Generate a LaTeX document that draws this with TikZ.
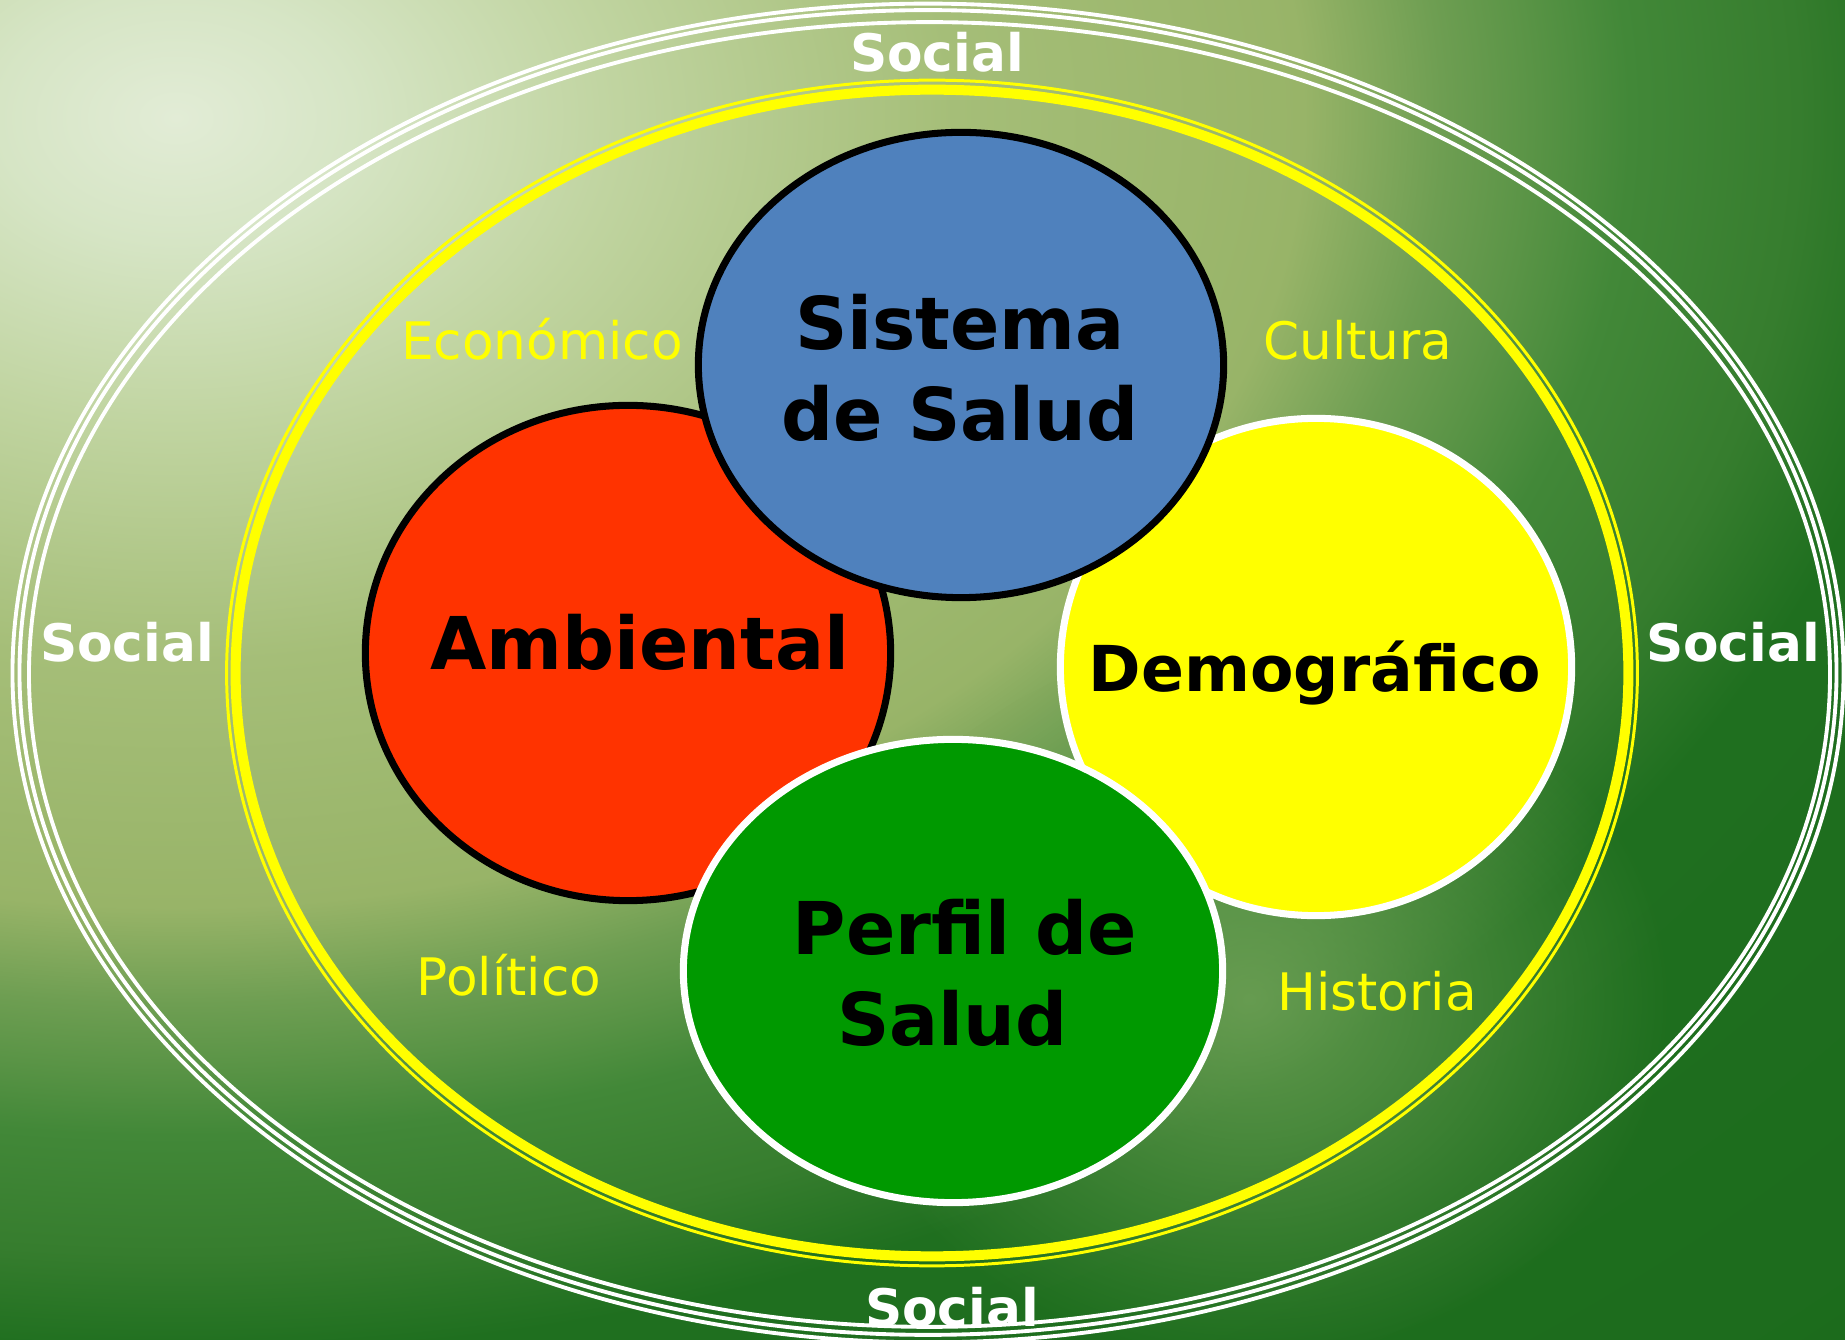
\documentclass[tikz,border=0pt]{standalone}
\usepackage{fontspec}
\setmainfont{DejaVu Sans}
\usetikzlibrary{shapes.geometric,fadings}
\definecolor{bgA}{HTML}{E2ECD6}
\definecolor{bgB}{HTML}{D6E5C5}
\definecolor{bgC}{HTML}{C0D4A0}
\definecolor{bgD}{HTML}{A5BE78}
\definecolor{bgE}{HTML}{98B468}
\definecolor{bgF}{HTML}{6E9E52}
\definecolor{bgG}{HTML}{5A9446}
\definecolor{bgH}{HTML}{428838}
\definecolor{bgI}{HTML}{367D2E}
\definecolor{bgJ}{HTML}{1F6F1F}
\definecolor{bgK}{HTML}{1C6B1C}
\definecolor{glowcol}{HTML}{74A45A}
\definecolor{redfill}{HTML}{FF3300}
\definecolor{bluefill}{HTML}{4F81BD}
\definecolor{yelfill}{HTML}{FFFF00}
\definecolor{grnfill}{HTML}{009900}
\pgfdeclareradialshading{bgshade}{\pgfpoint{0bp}{0bp}}{%
color(0bp)=(bgA); color(1.79bp)=(bgB); color(4.46bp)=(bgC); color(7.86bp)=(bgD);
color(11.4bp)=(bgE); color(12.8bp)=(bgF); color(13.7bp)=(bgG); color(14.7bp)=(bgH);
color(16.4bp)=(bgI); color(17.86bp)=(bgJ); color(25bp)=(bgK); color(50bp)=(bgK)}
\tikzfading[name=glowfade, inner color=transparent!0, outer color=transparent!100]
\begin{document}
\begin{tikzpicture}[x=0.01cm,y=-0.01cm,
  ring/.style={draw=white, line width=1.1pt},
  yring/.style={draw=yelfill},
  blob/.style={ellipse, inner sep=0pt, outer sep=0pt, line width=2pt},
  bigtxt/.style={font=\bfseries\fontsize{20.7}{25.8}\selectfont, text=black, inner sep=0pt},
  demtxt/.style={font=\bfseries\fontsize{18}{22}\selectfont, text=black, inner sep=0pt},
  socialtxt/.style={font=\bfseries\fontsize{14.7}{17}\selectfont, text=white, inner sep=0pt, anchor=base},
  factortxt/.style={font=\fontsize{14.7}{17}\selectfont, text=yelfill, inner sep=0pt, anchor=base}]
\useasboundingbox (0,0) rectangle (1845,1340);
\begin{scope}
\clip (0,0) rectangle (1845,1340);
\fill[bgK] (0,0) rectangle (1845,1340);
\shade[shading=bgshade] (176,118) ellipse [x radius=24.71cm, y radius=17.29cm];
\fill[glowcol, path fading=glowfade, fill opacity=0.8] (1250,1000) ellipse [x radius=4.2cm, y radius=3.6cm];
\end{scope}
% outer triple white ring
\draw[ring] (928,673) ellipse [x radius=9.15cm, y radius=6.69cm];
\draw[ring] (928,672.5) ellipse [x radius=9.08cm, y radius=6.62cm];
\draw[ring] (929.5,674.5) ellipse [x radius=9.00cm, y radius=6.52cm];
% yellow double ring
\draw[yring, line width=0.85pt] (932,673) ellipse [x radius=7.05cm, y radius=5.925cm];
\draw[yring, line width=2.85pt] (932,673) ellipse [x radius=6.96cm, y radius=5.83cm];
% circles
\node[blob, fill=redfill, draw=black, minimum width=5.25cm, minimum height=4.95cm] (amb) at (628,653) {};
\node[blob, fill=yelfill, draw=white, minimum width=5.11cm, minimum height=4.97cm] (dem) at (1316,667) {};
\node[blob, fill=bluefill, draw=black, minimum width=5.25cm, minimum height=4.65cm] (sis) at (961,365) {};
\node[blob, fill=grnfill, draw=white, minimum width=5.39cm, minimum height=4.63cm] (per) at (953,971) {};
% circle labels
\node[bigtxt, align=center] (tsis) at (960,368) {Sistema\\de Salud};
\node[bigtxt, anchor=base] (tamb) at (640,670) {Ambiental};
\node[demtxt, anchor=base] (tdem) at (1315,692) {Demográfico};
\node[bigtxt, align=center] (tper) at (965,973) {Perfil de\\Salud\hspace*{0.35em}};
% social labels
\node[socialtxt] (s1) at (937,72) {Social};
\node[socialtxt] (s2) at (127,662) {Social};
\node[socialtxt] (s3) at (1733,662) {Social};
\node[socialtxt] (s4) at (952,1326) {Social};
% factor labels
\node[factortxt] (f1) at (542,360) {Económico};
\node[factortxt] (f2) at (1358,360) {Cultura};
\node[factortxt] (f3) at (509,995) {Político};
\node[factortxt] (f4) at (1377,1010) {Historia};
\end{tikzpicture}
\end{document}
